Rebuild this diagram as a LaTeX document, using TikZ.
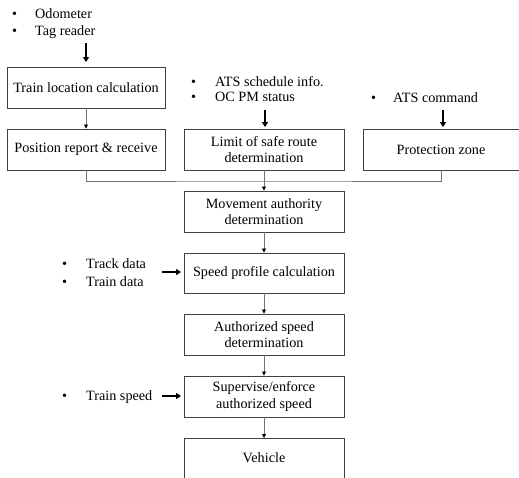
\documentclass[tikz,border=0pt]{standalone}
\usepackage{fontspec}
\setmainfont{Liberation Serif}
\usetikzlibrary{arrows.meta,calc}
\begin{document}
\begin{tikzpicture}[x=1pt,y=-1pt,
  font=\fontsize{14.2}{16.5}\selectfont,
  box/.style={draw=black!75,line width=0.9pt,align=center,inner sep=2pt},
  conn/.style={draw=black!55,line width=0.8pt},
  carrow/.style={conn,-{Triangle[length=4pt,width=4pt,fill=black,color=black]}},
  inarrow/.style={draw=black,line width=1.6pt,-{Triangle[length=5pt,width=6pt]}},
  lbl/.style={anchor=base west,inner sep=0pt}]
\useasboundingbox (0,0) rectangle (519,477);
\begin{scope}
\clip (0,0) rectangle (519,477);
% boxes
\node[box,minimum width=158pt,minimum height=41pt] (tl) at (86,87.5) {Train location calculation};
\node[box,minimum width=158pt,minimum height=41pt] (pr) at (86,149.5) {Position report \& receive};
\node[box,minimum width=160pt,minimum height=41pt] (ls) at (264,149.5) {Limit of safe route\\determination};
\node[box,minimum width=156pt,minimum height=41pt] (pz) at (441,149.5) {Protection zone};
\node[box,minimum width=160pt,minimum height=41pt] (ma) at (264,211.5) {Movement authority\\determination};
\node[box,minimum width=160pt,minimum height=40pt] (sp) at (264,273) {Speed profile calculation};
\node[box,minimum width=160pt,minimum height=41pt] (as) at (264,334.5) {Authorized speed\\determination};
\node[box,minimum width=160pt,minimum height=41pt] (se) at (264,396.5) {Supervise/enforce\\authorized speed};
\node[box,minimum width=160pt,minimum height=60pt,anchor=north] (ve) at (264,438) {};
\node (vet) at (264,458) {Vehicle};
\end{scope}
% input labels
\node[lbl] (b1) at (12,18.5) {•}; \node[lbl] (t1) at (35,18.5) {Odometer};
\node[lbl] (b2) at (12,35.5) {•}; \node[lbl] (t2) at (35,35.5) {Tag reader};
\node[lbl] (b3) at (191,86.5) {•}; \node[lbl] (t3) at (215,86.5) {ATS schedule info.};
\node[lbl] (b4) at (191,101.5) {•}; \node[lbl] (t4) at (215,101.5) {OC PM status};
\node[lbl] (b5) at (371,102.5) {•}; \node[lbl] (t5) at (393,102.5) {ATS command};
\node[lbl] (b6) at (62,268.5) {•}; \node[lbl] (t6) at (86,268.5) {Track data};
\node[lbl] (b7) at (62,286.5) {•}; \node[lbl] (t7) at (86,286.5) {Train data};
\node[lbl] (b8) at (62,400.5) {•}; \node[lbl] (t8) at (86,400.5) {Train speed};
% input arrows
\coordinate (i1) at (86,43);
\coordinate (i2) at (265,110);
\coordinate (i3) at (443,110);
\coordinate (i4) at (162,272);
\coordinate (i5) at (162,396);
\draw[inarrow,shorten >=4.5pt] (i1) -- (tl.north);
\draw[inarrow,shorten >=1.5pt] (i2) -- (i2|-ls.north);
\draw[inarrow,shorten >=1.5pt] (i3) -- (i3|-pz.north);
\draw[inarrow,shorten >=2.5pt] (i4) -- (i4-|sp.west);
\draw[inarrow,shorten >=2.5pt] (i5) -- (i5-|se.west);
% connectors
\coordinate (j) at (264,181);
\draw[carrow] (tl.south) -- (pr.north);
\draw[conn] (pr.south) |- (j) -| (pz.south);
\draw[carrow] (ls.south) -- (ma.north);
\draw[carrow] (ma.south) -- (sp.north);
\draw[carrow] (sp.south) -- (as.north);
\draw[carrow] (as.south) -- (se.north);
\draw[carrow] (se.south) -- (ve.north);
\end{tikzpicture}
\end{document}
